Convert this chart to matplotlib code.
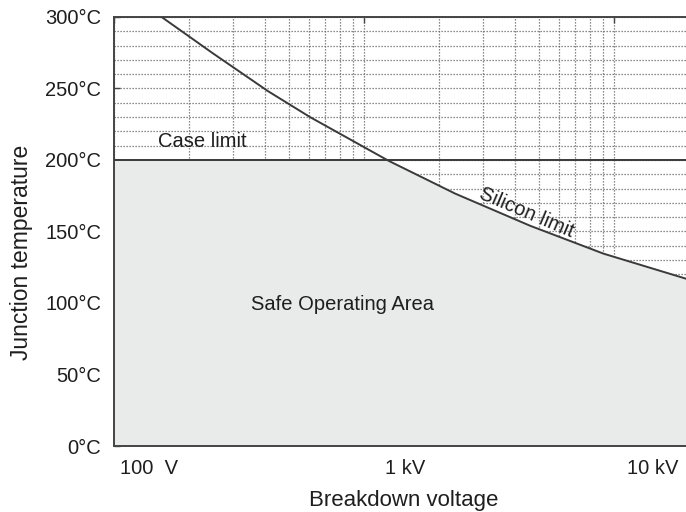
import numpy as np
import matplotlib.pyplot as plt
from matplotlib.ticker import FixedLocator, NullFormatter
from matplotlib.transforms import ScaledTranslation

# Data
volts = [155, 249, 414, 608, 1251, 2312, 4613, 9063, 19360]
silicon_temp = [300, 274.5, 248, 230, 199.5, 176.5, 154, 134.5, 117]
case_limit = 200
x_ticks = [100, 1000, 10000]
x_labels = ['100  V', '1 kV', '10 kV']
y_ticks = [0, 50, 100, 150, 200, 250, 300]
y_labels = ['%d°C' % t for t in y_ticks]
x_range = [100, 19360]

plt.rcParams['font.family'] = ['Liberation Sans', 'DejaVu Sans']
dark = '#3a3a3a'
txt = '#1e1e1e'

fig = plt.figure(figsize=(6.86, 5.12), dpi=100)
ax = fig.add_axes([114 / 686, 1 - 446 / 512, 1 - 114 / 686, (446 - 17) / 512])
ax.set_xscale('log')
ax.set_xlim(*x_range)
ax.set_ylim(0, 300)

# dotted grid, hidden under the safe area
ax.set_axisbelow(True)
ax.xaxis.set_minor_locator(FixedLocator([m * 10 ** e for e in (2, 3) for m in range(2, 10)]))
ax.xaxis.set_minor_formatter(NullFormatter())
ax.yaxis.set_minor_locator(FixedLocator(np.arange(0, 301, 10)))
ax.grid(True, which='both', axis='both', ls=(0, (1, 1.4)), color='#666666', lw=0.9)

# safe operating area
v = np.array(volts, dtype=float)
t = np.array(silicon_temp, dtype=float)
fill_v = np.concatenate(([x_range[0]], v))
fill_t = np.minimum(np.concatenate(([case_limit], t)), case_limit)
ax.fill_between(fill_v, 0, fill_t, color='#e9eaea', zorder=1)

ax.axhline(case_limit, color=dark, lw=1.4, zorder=3)
ax.plot(v, t, color=dark, lw=1.4, zorder=3)

ax.text(0.077, 0.709, 'Case limit', transform=ax.transAxes,
        fontsize=14.5, color=txt, va='center', ha='left')
ax.text(0.399, 0.329, 'Safe Operating Area', transform=ax.transAxes,
        fontsize=14.5, color=txt, va='center', ha='center')
ax.text(0.722, 0.545, 'Silicon limit', transform=ax.transAxes, rotation=-23,
        fontsize=14.5, color=txt, va='center', ha='center', rotation_mode='anchor')

# axes styling
for side in ('left', 'bottom', 'top'):
    ax.spines[side].set_color('#444444')
    ax.spines[side].set_linewidth(1.4)
ax.spines['right'].set_visible(False)

ax.set_xticks(x_ticks)
ax.set_xticklabels(x_labels)
ax.set_yticks(y_ticks)
ax.set_yticklabels(y_labels)
ax.tick_params(axis='both', which='minor', length=0)
ax.tick_params(axis='both', which='major', direction='in', length=4, width=1,
               color='#444444', labelsize=14.5, labelcolor=txt, top=True)
ax.tick_params(axis='x', pad=9.5)
ax.tick_params(axis='y', pad=9)
for lab, dx in zip(ax.get_xticklabels(), [35, 41, 38]):
    lab.set_transform(lab.get_transform() + ScaledTranslation(dx / 100, 0, fig.dpi_scale_trans))

ax.set_xlabel('Breakdown voltage', fontsize=16, color=txt)
ax.set_ylabel('Junction temperature', fontsize=16.5, color=txt)
ax.xaxis.set_label_coords(0.507, -0.103)
ax.yaxis.set_label_coords(-0.1416, 0.452)

fig.savefig('out.png', dpi=100)
